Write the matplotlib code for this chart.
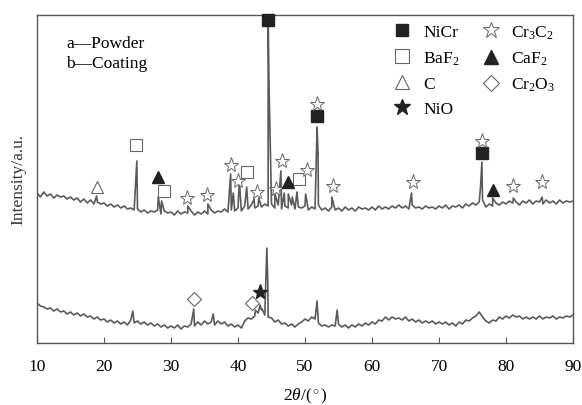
import numpy as np
import matplotlib
matplotlib.use("Agg")
import matplotlib.pyplot as plt
from matplotlib.lines import Line2D

plt.rcParams['font.family'] = ['Liberation Serif', 'DejaVu Serif']
plt.rcParams['mathtext.fontset'] = 'custom'
plt.rcParams['mathtext.rm'] = 'Liberation Serif'
plt.rcParams['mathtext.it'] = 'Liberation Serif:italic'

# 2theta grid of the baseline readings (0.5 deg step)
two_theta = np.arange(10, 90.01, 0.5)

# curve a (powder), baseline readings
base_a = [150, 146, 151, 147, 149, 145, 148, 146, 147, 144,
          146, 143, 145, 141, 144, 140, 143, 139, 141, 139,
          140, 137, 139, 136, 138, 135, 137, 134, 135, 133,
          134, 131, 133, 130, 132, 131, 133, 129, 132, 130,
          131, 128, 132, 129, 131, 130, 132, 128, 131, 129,
          132, 129, 133, 130, 132, 131, 134, 131, 133, 132,
          135, 132, 137, 134, 138, 135, 137, 136, 139, 137,
          139, 135, 138, 134, 137, 135, 138, 134, 136, 135,
          137, 133, 136, 134, 138, 133, 135, 132, 136, 133,
          135, 132, 136, 133, 135, 132, 136, 134, 135, 133,
          136, 133, 137, 134, 136, 134, 137, 135, 138, 135,
          137, 134, 138, 135, 136, 134, 137, 135, 136, 134,
          137, 135, 138, 134, 137, 136, 138, 135, 139, 137,
          140, 138, 141, 143, 136, 139, 137, 140, 138, 141,
          139, 142, 140, 141, 138, 142, 140, 143, 139, 142,
          141, 139, 143, 140, 142, 139, 143, 140, 142, 141,
          142]
peak_pos_a = [18.9, 24.9, 28.1, 28.6, 32.5, 35.5, 38.9, 39.3, 40.2, 41.3,
              42.4, 43.1, 44.5, 44.65, 45.5, 46.4, 46.9, 47.5, 48.1, 48.8,
              50.1, 51.8, 51.95, 54.0, 65.9, 76.2, 76.4, 78.0, 81.1, 85.4]
peak_top_a = [147, 182, 146, 142, 137, 139, 169, 150, 162, 156,
              144, 145, 324, 250, 149, 172, 150, 149, 146, 151,
              149, 216, 190, 146, 150, 156, 181, 145, 145, 146]

# curve b (coating), baseline readings
base_b = [40, 37, 36, 34, 35, 32, 34, 31, 32, 29,
          31, 28, 30, 27, 29, 26, 27, 24, 26, 23,
          24, 21, 23, 20, 22, 19, 21, 18, 23, 20,
          22, 19, 21, 18, 20, 17, 19, 16, 18, 15,
          17, 15, 18, 14, 17, 16, 19, 17, 21, 18,
          22, 19, 21, 18, 22, 19, 21, 17, 19, 16,
          18, 15, 22, 25, 24, 27, 30, 33, 28, 26,
          25, 21, 23, 19, 20, 17, 19, 16, 19, 21,
          24, 22, 26, 24, 20, 17, 18, 16, 18, 17,
          19, 16, 18, 15, 18, 16, 19, 17, 20, 18,
          21, 19, 23, 22, 26, 23, 26, 24, 25, 23,
          26, 22, 24, 21, 23, 20, 22, 20, 22, 19,
          21, 19, 21, 18, 20, 17, 21, 19, 23, 22,
          25, 27, 31, 26, 22, 20, 23, 22, 26, 24,
          27, 25, 28, 26, 27, 24, 26, 24, 26, 24,
          27, 24, 26, 25, 27, 24, 26, 25, 27, 26,
          28]
peak_pos_b = [24.3, 33.4, 36.3, 42.6, 43.3, 43.6, 44.3, 44.45, 51.8, 54.8]
peak_top_b = [32, 34, 29, 33, 38, 34, 95, 60, 42, 33]

# phase markers (2theta, height)
nicr_x, nicr_y = [44.5, 51.8, 76.4], [323, 227, 190]
baf2_x, baf2_y = [24.8, 29.0, 41.3, 49.1], [198, 152, 171, 164]
c_x, c_y = [19.0], [156]
nio_x, nio_y = [43.3], [51]
cr3c2_x = [32.4, 35.4, 38.9, 40.0, 42.8, 45.7, 46.6, 50.3, 51.8, 54.2, 66.1, 76.4, 81.0, 85.4]
cr3c2_y = [145, 148, 178, 162, 151, 154, 182, 173, 239, 157, 161, 202, 157, 161]
caf2_x, caf2_y = [28.1, 47.5, 78.1], [166, 161, 153]
cr2o3_x, cr2o3_y = [33.4, 42.1], [44, 40]


def trace(base, pos, top):
    x = np.concatenate([two_theta, pos])
    y = np.concatenate([base, top])
    order = np.argsort(x, kind='stable')
    return x[order], y[order]


fig = plt.figure(figsize=(5.82, 4.06), dpi=100)
ax = fig.add_axes([37 / 582, 1 - 344 / 406, 536 / 582, 328 / 406])

line_col = '#5a5a5a'
xa, ya = trace(base_a, peak_pos_a, peak_top_a)
xb, yb = trace(base_b, peak_pos_b, peak_top_b)
ax.plot(xa, ya, color=line_col, lw=1.2)
ax.plot(xb, yb, color=line_col, lw=1.2)

k = '#222222'
g = '#666666'
styles = {
    'NiCr': dict(marker='s', mfc=k, mec=k, ms=8),
    'BaF$_2$': dict(marker='s', mfc='white', mec=g, ms=9, mew=0.8),
    'C': dict(marker='^', mfc='white', mec=g, ms=9, mew=0.8),
    'NiO': dict(marker='*', mfc=k, mec=k, ms=11),
    'Cr$_3$C$_2$': dict(marker='*', mfc='white', mec=g, ms=11, mew=0.7),
    'CaF$_2$': dict(marker='^', mfc=k, mec=k, ms=9),
    'Cr$_2$O$_3$': dict(marker='D', mfc='white', mec=g, ms=7.5, mew=0.8),
}
pts = {
    'NiCr': (nicr_x, nicr_y), 'BaF$_2$': (baf2_x, baf2_y), 'C': (c_x, c_y),
    'NiO': (nio_x, nio_y), 'Cr$_3$C$_2$': (cr3c2_x, cr3c2_y),
    'CaF$_2$': (caf2_x, caf2_y), 'Cr$_2$O$_3$': (cr2o3_x, cr2o3_y),
}
handles = []
for name, st in styles.items():
    px, py = pts[name]
    ax.plot(px, py, ls='none', clip_on=False, zorder=5, **st)
    handles.append(Line2D([], [], ls='none', label=name, **st))

ax.legend(handles=handles, ncol=2, loc='upper left', bbox_to_anchor=(0.665, 0.975),
          frameon=False, fontsize=12.5, borderpad=0, borderaxespad=0, markerscale=1.1,
          handlelength=1.0, handletextpad=0.7, columnspacing=1.3, labelspacing=0.52)

ax.text(0.055, 0.915, 'a\u2014Powder', transform=ax.transAxes, fontsize=12.5, va='center')
ax.text(0.055, 0.855, 'b\u2014Coating', transform=ax.transAxes, fontsize=12.5, va='center')

ax.set_xlim(10, 90)
ax.set_ylim(0, 328)
ax.set_xticks([10, 20, 30, 40, 50, 60, 70, 80, 90])
ax.set_yticks([])
ax.tick_params(axis='x', direction='in', length=4, pad=11, labelsize=12.5, color='#555555')
ax.set_xlabel(r'2$\theta$/($^\circ$)', fontsize=12.5, labelpad=8)
ax.set_ylabel('Intensity/a.u.', fontsize=12.5, labelpad=8, color='#333333')
for sp in ax.spines.values():
    sp.set_color('#555555')
    sp.set_linewidth(1.0)

fig.savefig('out.png', dpi=100)
